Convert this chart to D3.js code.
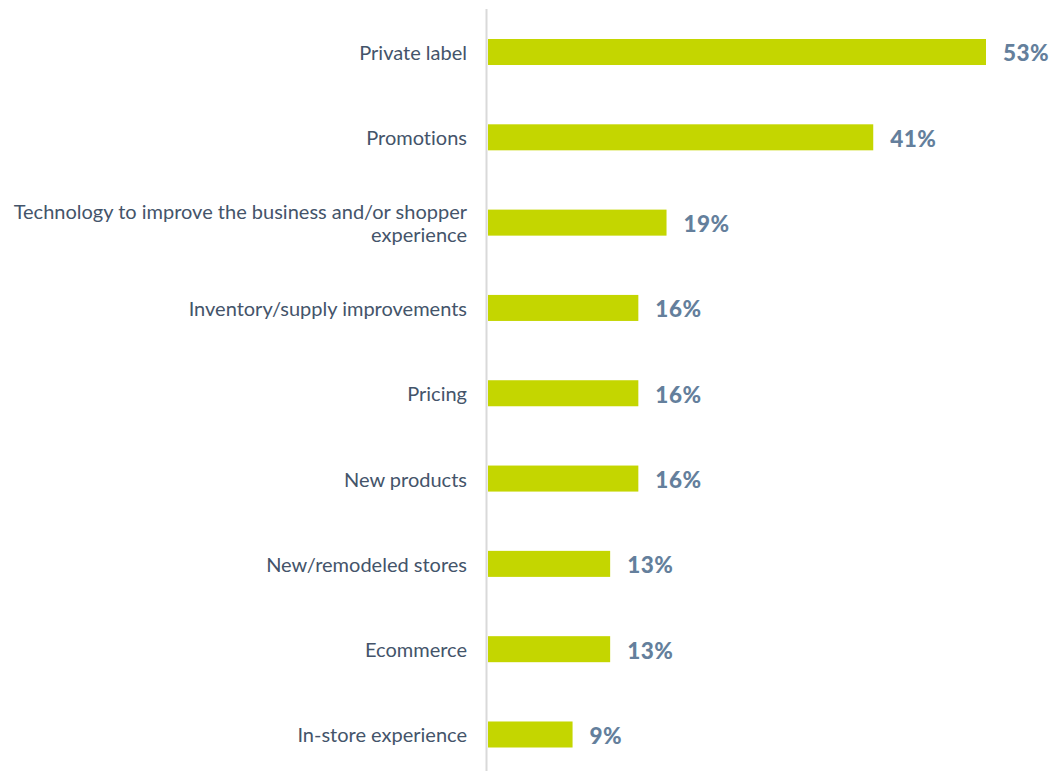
<!DOCTYPE html>
<html>
<head>
<meta charset="utf-8">
<script src="https://cdn.jsdelivr.net/npm/d3@7"></script>
<style>
  html, body { margin: 0; padding: 0; background: #ffffff; }
  svg { display: block; }
  text { font-variant-ligatures: none; font-feature-settings: "liga" 0; }
</style>
</head>
<body>
<svg id="chart" width="1056" height="772"></svg>
<script>
// Survey answers, top to bottom
const categories = [
  ["Private label"],
  ["Promotions"],
  ["Technology to improve the business and/or shopper", "experience"],
  ["Inventory/supply improvements"],
  ["Pricing"],
  ["New products"],
  ["New/remodeled stores"],
  ["Ecommerce"],
  ["In-store experience"]
];
const values = [53, 41, 19, 16, 16, 16, 13, 13, 9];

const svg = d3.select("#chart");
const axisX = 488;

const x = d3.scaleLinear().domain([0, 53]).range([axisX, 986]);
const y = d3.scaleBand()
  .domain(d3.range(categories.length))
  .range([9.35, 777.15])
  .paddingInner(0.695)
  .paddingOuter(0.3475);

// vertical baseline
svg.append("line")
  .attr("x1", axisX - 1.5).attr("x2", axisX - 1.5)
  .attr("y1", 9).attr("y2", 771)
  .attr("stroke", "#d9d9d9").attr("stroke-width", 2);

// bars
svg.selectAll("rect.bar")
  .data(values)
  .join("rect")
  .attr("class", "bar")
  .attr("x", x(0))
  .attr("y", (d, i) => y(i))
  .attr("width", d => x(d) - x(0))
  .attr("height", y.bandwidth())
  .attr("fill", "#c4d600");

// category labels
const labels = svg.selectAll("text.cat")
  .data(categories)
  .join("text")
  .attr("class", "cat")
  .attr("text-anchor", "end")
  .attr("font-family", "Lato, 'Open Sans', sans-serif")
  .attr("font-size", 20)
  .attr("fill", "#44546a");

labels.each(function(lines, i) {
  const cy = y(i) + y.bandwidth() / 2;
  const lh = 23;
  const top = cy - (lines.length - 1) * lh / 2;
  d3.select(this).selectAll("tspan")
    .data(lines)
    .join("tspan")
    .attr("x", 467)
    .attr("y", (d, j) => top + j * lh)
    .attr("dy", "0.4em")
    .text(d => d);
});

// value labels
svg.selectAll("text.val")
  .data(values)
  .join("text")
  .attr("class", "val")
  .attr("x", d => x(d) + 17)
  .attr("y", (d, i) => y(i) + y.bandwidth() / 2)
  .attr("dy", "0.42em")
  .attr("font-family", "Lato, 'Open Sans', sans-serif")
  .attr("font-weight", 900)
  .attr("font-size", 22.5)
  .attr("letter-spacing", 0.5)
  .attr("fill", "#647f9c")
  .text(d => d + "%");
</script>
</body>
</html>
